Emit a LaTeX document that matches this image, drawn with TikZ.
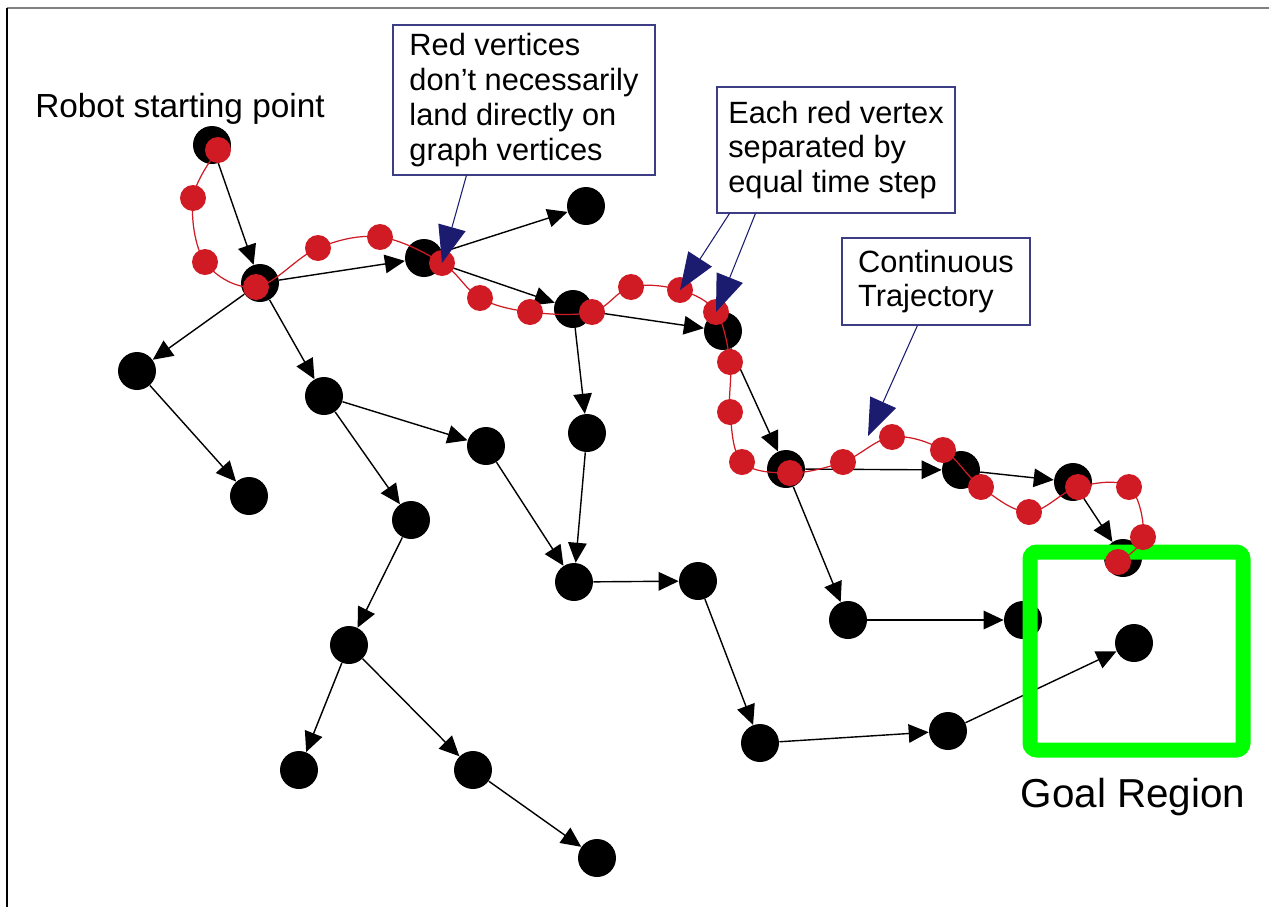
\documentclass[tikz,border=0pt]{standalone}
\usepackage{fontspec}
\setmainfont{Liberation Sans}
\usetikzlibrary{arrows.meta}
\definecolor{trajred}{RGB}{208,27,36}
\definecolor{notenavy}{RGB}{27,27,112}
\definecolor{goalgreen}{RGB}{0,255,0}

\begin{document}
\begin{tikzpicture}[x=0.02cm,y=-0.02cm,
    vertex/.style={circle,fill=black,minimum size=0.76cm,inner sep=0pt},
    waypt/.style={circle,fill=trajred,minimum size=0.52cm,inner sep=0pt},
    edge/.style={-{Triangle[length=0.4cm,width=0.37cm]},line width=0.8pt},
    note/.style={draw=notenavy!85!white,line width=0.7pt,fill=white,align=left,inner sep=0pt,
                 font=\fontsize{17.5}{19.8}\selectfont},
    pointer/.style={notenavy,line width=0.6pt,-{Triangle[length=0.74cm,width=0.56cm]}}]
    \useasboundingbox (0,0) rectangle (1269,907);
    % page frame
    \draw[black!50,line width=1.1pt] (7,8) -- (1269,8);
    \draw[line width=0.8pt] (7,8) -- (7,907);

    % graph vertices
    \foreach \n/\x/\y in {s/212/145, a/260/283, b/424/258, c/586/206, d/573/309, e/723/331,
        f/137/371, g/324/396, h/249/496, i/486/446, j/587/433, k/411/520, l/574/582,
        m/698/581, n/349/645, o/299/770, p/473/770, q/597/858, r/786/469, t/961/470,
        u/1073/482, v/1123/558, w/848/620, x/1023/620, y/1134/643, z/760/743, zz/948/731}
        \node[vertex] (\n) at (\x,\y) {};

    % tree edges
    \foreach \u/\v in {s/a, a/b, b/c, b/d, d/e, a/f, a/g, f/h, g/i, g/k, d/j, j/l, i/l, l/m,
        k/n, n/o, n/p, p/q, e/r, r/t, t/u, u/v, r/w, w/x, m/z, z/zz, zz/y}
        \draw[edge] (\u) -- (\v);

    % goal region
    \draw[goalgreen,line width=0.3cm,rounded corners=4pt] (1030,552) rectangle (1243,750);
    \node[font=\fontsize{23}{27}\selectfont] (goallabel) at (1133,797) {Goal Region};
    \node[font=\fontsize{19}{23}\selectfont] (startlabel) at (180,109) {Robot starting point};

    % continuous trajectory and time steps
    \foreach [count=\i] \x/\y in {218/150, 193/198, 205/262, 256/287, 318/248, 380/237,
        442/263, 480/298, 530/312, 592/312, 631/287, 680/290, 716/312, 730/362, 730/412,
        742/462, 790/473, 843/462, 892/437, 943/450, 981/487, 1029/512, 1078/487,
        1129/487, 1143/537, 1118/562}
        \coordinate (r\i) at (\x,\y);
    \draw[trajred,line width=0.7pt] plot[smooth,tension=0.6] coordinates {(r1) (r2) (r3) (r4)
        (r5) (r6) (r7) (r8) (r9) (r10) (r11) (r12) (r13) (r14) (r15) (r16) (r17) (r18)
        (r19) (r20) (r21) (r22) (r23) (r24) (r25) (r26)};
    \foreach \i in {1,...,26}
        \node[waypt] (w\i) at (r\i) {};
    \coordinate (trajpt) at (868,436);

    % callouts
    \node[note,minimum width=5.24cm,minimum height=3cm] (note1) at (524,100)
        {Red vertices\\don’t necessarily\\land directly on\\graph vertices};
    \node[note,minimum width=4.76cm,minimum height=2.52cm] (note2) at (836,150)
        {Each red vertex\\separated by\\equal time step};
    \node[note,minimum width=3.76cm,minimum height=1.74cm] (note3) at (936,281.5)
        {Continuous\\Trajectory};
    \draw[pointer] ([xshift=1.48cm]note1.south west) -- (r7);
    \draw[pointer] ([xshift=0.26cm]note2.south west) -- (r12);
    \draw[pointer] ([xshift=0.78cm]note2.south west) -- (r13);
    \draw[pointer] ([xshift=1.52cm]note3.south west) -- (trajpt);
\end{tikzpicture}
\end{document}
